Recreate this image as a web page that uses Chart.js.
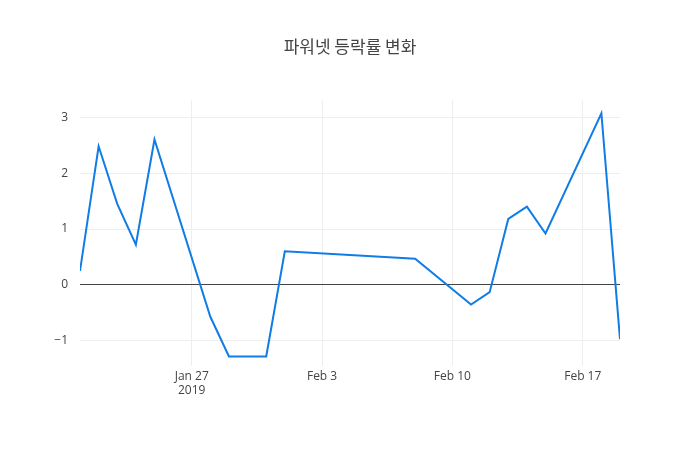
<!DOCTYPE html>
<html>
<head>
<meta charset="utf-8">
<script src="https://cdn.jsdelivr.net/npm/chart.js@4"></script>
<style>
  body { margin: 0; background: #fff; }
  #wrap { width: 700px; height: 450px; }
</style>
</head>
<body>
<div id="wrap"><canvas id="c"></canvas></div>
<script>
// 날짜: 2019-01-21 기준 경과일
const days = [0, 1, 2, 3, 4, 7, 8, 10, 11, 18, 21, 22, 23, 24, 25, 28, 29];
const rates = [0.25, 2.48, 1.45, 0.72, 2.6, -0.57, -1.28, -1.28, 0.6, 0.47, -0.35, -0.13, 1.18, 1.4, 0.92, 3.07, -0.97];
const tickDays = [6, 13, 20, 27];
const tickLabels = [['Jan 27', '2019'], 'Feb 3', 'Feb 10', 'Feb 17'];

const font = { family: '"Open Sans", sans-serif', size: 12 };

new Chart(document.getElementById('c'), {
    type: 'line',
    data: {
        datasets: [{
            data: days.map((d, i) => ({ x: d, y: rates[i] })),
            borderColor: 'rgb(16,124,230)',
            borderWidth: 2,
            pointRadius: 0,
            tension: 0,
            fill: false
        }]
    },
    options: {
        responsive: true,
        maintainAspectRatio: false,
        animation: false,
        layout: { padding: 0 },
        plugins: {
            legend: { display: false },
            tooltip: { enabled: false },
            title: {
                display: true,
                text: '파워넷 등락률 변화',
                color: '#444',
                font: { family: '"Noto Sans CJK KR", sans-serif', size: 17, weight: 'normal' },
                padding: { top: 36, bottom: 44 }
            }
        },
        scales: {
            x: {
                type: 'linear',
                min: 0,
                max: 29,
                afterBuildTicks: s => { s.ticks = tickDays.map(v => ({ value: v })); },
                afterFit: s => { s.height = 84; },
                ticks: {
                    color: '#444',
                    font: font,
                    maxRotation: 0,
                    callback: v => tickLabels[tickDays.indexOf(v)]
                },
                grid: { color: '#eee', drawTicks: false },
                border: { display: false }
            },
            y: {
                min: -1.45,
                max: 3.3,
                afterBuildTicks: s => { s.ticks = [-1, 0, 1, 2, 3].map(v => ({ value: v })); },
                afterFit: s => { s.width = 80; },
                ticks: {
                    color: '#444',
                    font: font,
                    padding: 12,
                    callback: v => v < 0 ? '\u2212' + Math.abs(v) : String(v)
                },
                grid: {
                    color: ctx => ctx.tick && ctx.tick.value === 0 ? '#444' : '#eee',
                    lineWidth: 1,
                    drawTicks: false
                },
                border: { display: false }
            },
            // 오른쪽 여백용 빈 축
            yRight: {
                position: 'right',
                min: 0,
                max: 1,
                afterFit: s => { s.width = 80; },
                ticks: { display: false },
                grid: { display: false },
                border: { display: false }
            }
        }
    }
});
</script>
</body>
</html>
